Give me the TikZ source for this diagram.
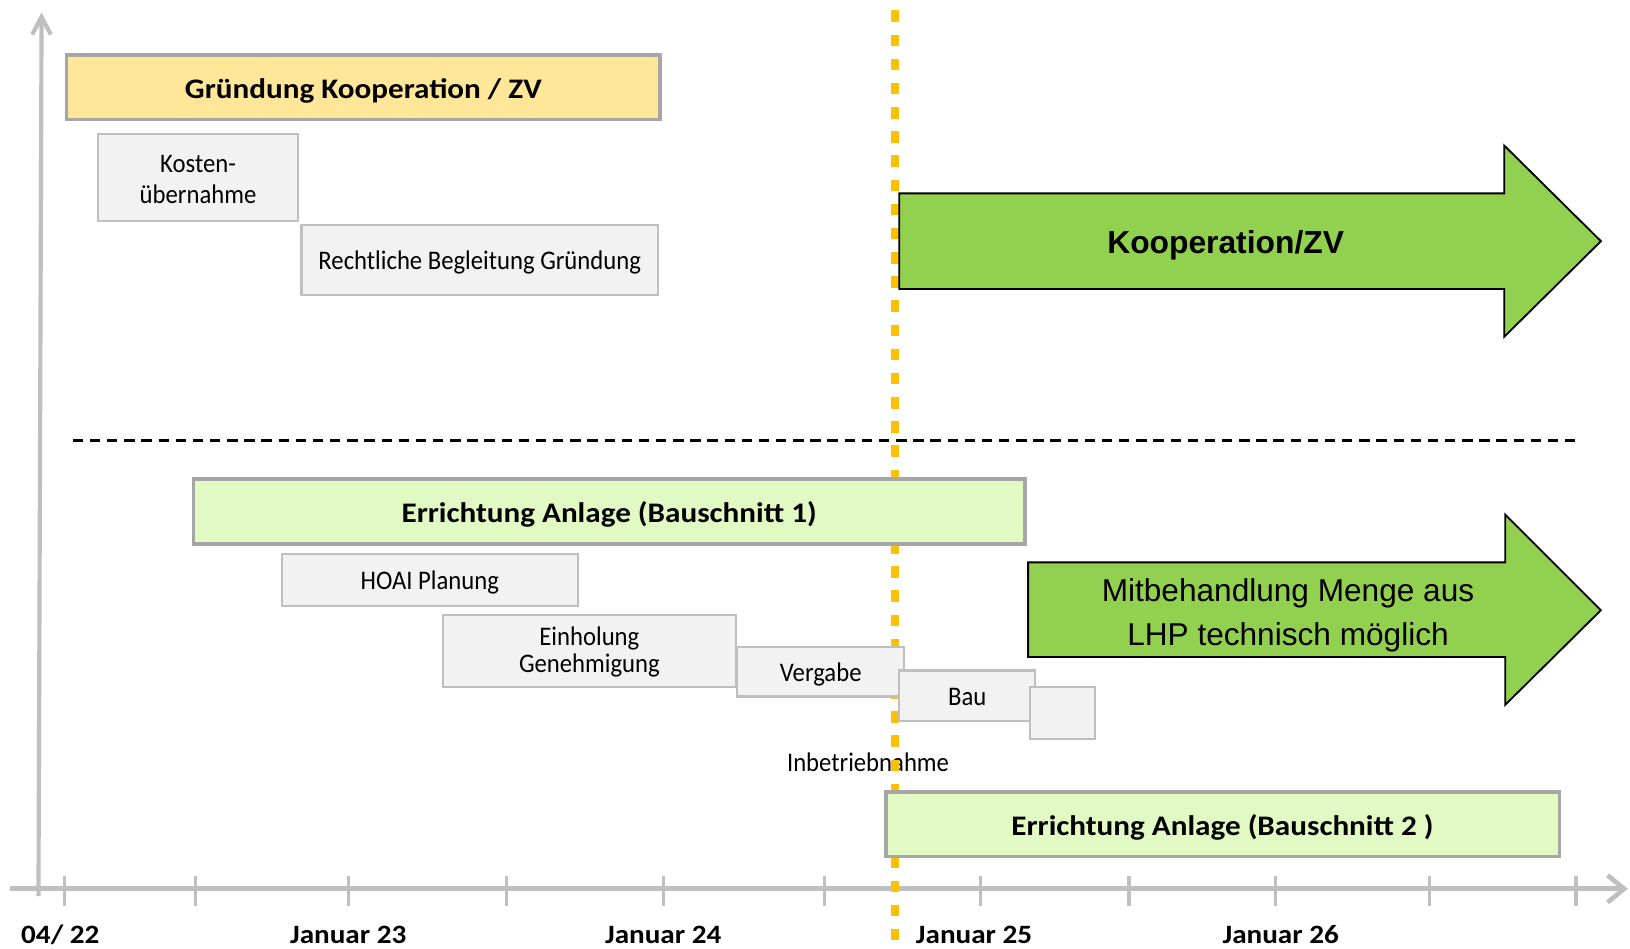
\documentclass[tikz,border=0pt]{standalone}
\usepackage{fontspec}
\usetikzlibrary{arrows.meta}

% Fonts: a narrow humanist sans for the plan, an Arial-like sans for the arrows
\newfontfamily\planfont{Carlito}[FakeStretch=0.92]
\newfontfamily\planbold{Carlito}[FakeStretch=1.1]
\newfontfamily\arrowfont{Liberation Sans}

\newcommand\txtReg{\planfont\fontsize{14.7}{17}\selectfont}
\newcommand\txtBold{\planbold\bfseries\fontsize{15.5}{18}\selectfont}
\newcommand\txtAxis{\planbold\bfseries\fontsize{14.5}{17}\selectfont}
\newcommand\txtArrow{\arrowfont\fontsize{17.3}{23.9}\selectfont}
\newcommand\txtArrowBold{\arrowfont\bfseries\fontsize{17.4}{20}\selectfont}

\definecolor{axisgray}{HTML}{BFBFBF}
\definecolor{frame}{HTML}{A6A6A6}
\definecolor{taskfill}{HTML}{F2F2F2}
\definecolor{taskline}{HTML}{BFBFBF}
\definecolor{foundfill}{HTML}{FFE699}
\definecolor{buildfill}{HTML}{E1F9C3}
\definecolor{arrowgreen}{HTML}{92D050}
\definecolor{milestone}{HTML}{FFC000}

% box spanning (x1,y1)-(x2,y2): style, name, x1, y1, x2, y2, text
\newcommand\spanbox[7]{%
  \node[#1, minimum width={(#5-#3)*0.2mm}, minimum height={(#6-#4)*0.2mm}]
    (#2) at ({(#3+#5)/2},{(#4+#6)/2}) {#7};}

\tikzset{
  axisline/.style={draw=axisgray, line width=0.9mm},
  tickline/.style={draw=axisgray, line width=0.6mm},
  axislabel/.style={font=\txtAxis, text=black, inner sep=0pt},
  taskbox/.style={draw=taskline, fill=taskfill, line width=0.4mm, inner sep=0pt,
    font=\txtReg, text=black, align=center, text height=10.8pt, text depth=0pt},
  phasebox/.style={draw=frame, line width=0.7mm, inner sep=0pt,
    font=\txtBold, text=black, align=center, text height=12.3pt, text depth=0pt},
  bigarrow/.style={draw=black, fill=arrowgreen, line width=0.35mm, line join=miter},
  milestoneline/.style={draw=milestone, line width=1.7mm,
    dash pattern=on 2.2mm off 2.45mm},
  separator/.style={draw=black, line width=0.5mm, dash pattern=on 2mm off 1.3mm},
}

\begin{document}
\begin{tikzpicture}[x=0.2mm, y=-0.2mm]
\useasboundingbox (0,0) rectangle (1568,912);
\fill[white] (0,0) rectangle (1568,912);

% time axis and vertical axis
\draw[axisline, -{Straight Barb[length=3.2mm, width=5.2mm]}] (10,855) -- (1566,855);
\draw[axisline, line width=0.8mm, -{Straight Barb[length=3.4mm, width=3.6mm]}] (37,862) -- (40,12);
\foreach \x in {62,188,335,487,638,793,943,1086,1227,1375,1516}
  \draw[tickline] (\x,843) -- (\x,872);

\node[axislabel] (t0) at (58,899) {04/ 22};
\node[axislabel] (t23) at (335,899) {Januar 23};
\node[axislabel] (t24) at (638,899) {Januar 24};
\node[axislabel] (t25) at (937,899) {Januar 25};
\node[axislabel] (t26) at (1232,899) {Januar 26};

% commissioning label, milestone line and separator
\node[font=\txtReg, inner sep=0pt] (inbetrieb) at (835,733) {Inbetriebnahme};
\draw[milestoneline] (861,10) -- (861,912);
\draw[separator] (70,424) -- (1515,424);

% founding of the cooperation
\spanbox{phasebox, fill=foundfill}{found}{64}{53}{635}{115}{Gründung Kooperation / ZV}
\spanbox{taskbox, font=\planfont\fontsize{14.7}{17.1}\selectfont, text height=27.9pt}{kosten}{94}{129}{287}{213}{Kosten-\\übernahme}
\spanbox{taskbox}{recht}{290}{216}{633}{284}{Rechtliche Begleitung Gründung}

\draw[bigarrow] (865,186) -- (1447,186) -- (1447,140) -- (1540,232)
  -- (1447,324) -- (1447,278) -- (865,278) -- cycle;
\node[font=\txtArrowBold, inner sep=0pt] (koop) at (1179,236) {Kooperation/ZV};

% construction phase 1
\spanbox{phasebox, fill=buildfill}{bau1}{186}{461}{986}{523}{Errichtung Anlage (Bauschnitt 1)}
\spanbox{taskbox}{hoai}{271}{533}{556}{583}{HOAI Planung}
\spanbox{taskbox, font=\planfont\fontsize{14.7}{14.8}\selectfont, text height=23.7pt}{genehm}{426}{592}{708}{661}{Einholung\\Genehmigung}
\spanbox{taskbox}{vergabe}{709}{622}{870}{670}{Vergabe}
\spanbox{taskbox}{bau}{865}{645}{996}{694}{Bau}
\spanbox{taskbox}{rest}{991}{661}{1053}{711}{}

\draw[bigarrow] (989,541) -- (1448,541) -- (1448,495) -- (1540,587)
  -- (1448,678) -- (1448,632) -- (989,632) -- cycle;
\node[font=\txtArrow, align=center, inner sep=0pt] (mitbeh) at (1239,592)
  {Mitbehandlung Menge aus\\LHP technisch möglich};

% construction phase 2
\spanbox{phasebox, fill=buildfill}{bau2}{852}{762}{1500}{824}{Errichtung Anlage (Bauschnitt 2 )}
\end{tikzpicture}
\end{document}
